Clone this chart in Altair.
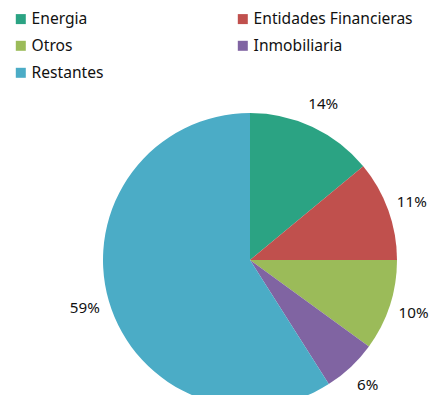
import altair as alt
import pandas as pd

categories = ["Energia", "Entidades Financieras", "Otros", "Inmobiliaria", "Restantes"]
values = [14, 11, 10, 6, 59]
labels = ["14%", "11%", "10%", "6%", "59%"]
colors = ["#2BA383", "#C0504D", "#9BBB59", "#8064A2", "#4BACC6"]
# legend is filled column by column
legend_order = ["Energia", "Otros", "Restantes", "Entidades Financieras", "Inmobiliaria"]

df = pd.DataFrame({"cat": categories, "val": values, "label": labels, "ord": list(range(len(categories)))})
color_of = dict(zip(categories, colors))

FONT = "Noto Sans"
cx, cy = 242, 252

base = alt.Chart(df).encode(
    theta=alt.Theta("val:Q", stack=True),
    order=alt.Order("ord:Q"),
)

pie = base.mark_arc(outerRadius=147, x=cx, y=cy).encode(
    color=alt.Color(
        "cat:N",
        scale=alt.Scale(domain=legend_order, range=[color_of[c] for c in legend_order]),
        legend=alt.Legend(
            title=None,
            orient="none",
            legendX=5,
            legendY=3,
            columns=2,
            columnPadding=131,
            rowPadding=10,
            symbolType="square",
            symbolSize=100,
            symbolStrokeWidth=0,
            labelOffset=3,
            labelFont=FONT,
            labelFontSize=15.6,
            labelColor="#111111",
            labelLimit=300,
        ),
    )
)

text = base.mark_text(radius=172, x=cx, y=cy, font=FONT, fontSize=15.2, color="#111111").encode(
    text="label:N"
)

chart = (
    alt.layer(pie, text)
    .properties(width=422, height=387, padding=0, autosize=alt.AutoSizeParams(type="none"))
    .configure_view(stroke=None)
)

chart.save("out.html", embed_options={"renderer": "svg", "actions": False})
